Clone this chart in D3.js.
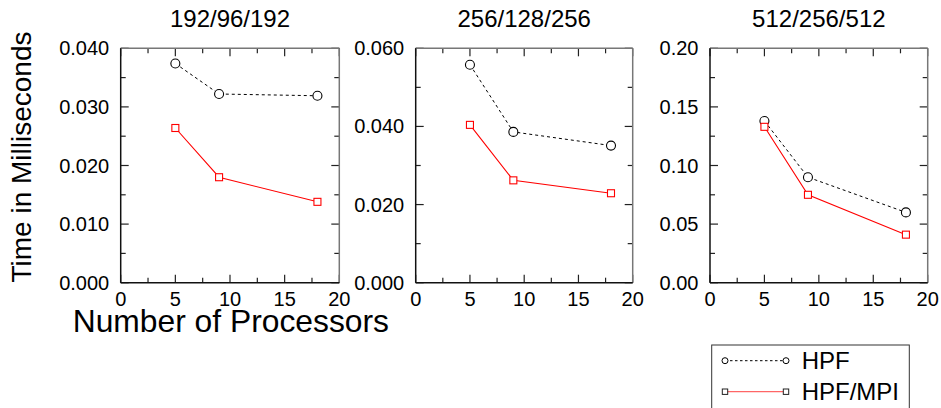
<!DOCTYPE html>
<html>
<head>
<meta charset="utf-8">
<script src="https://cdn.jsdelivr.net/npm/d3@7"></script>
<style>
  html, body { margin: 0; padding: 0; background: #fff; }
  svg { display: block; font-family: "Liberation Sans", Arial, Helvetica, sans-serif; }
</style>
</head>
<body>
<svg id="chart" width="941" height="408"></svg>
<script>
// ---- data ----
const processors = [5, 9, 18];
const panelTitles = ["192/96/192", "256/128/256", "512/256/512"];
const hpf1 = [0.0374, 0.0322, 0.0319];
const mpi1 = [0.0264, 0.0180, 0.0138];
const hpf2 = [0.0558, 0.0386, 0.0351];
const mpi2 = [0.0404, 0.0262, 0.0229];
const hpf3 = [0.138, 0.090, 0.060];
const mpi3 = [0.133, 0.075, 0.041];
const yMax = [0.040, 0.060, 0.20];
const yTickLabels = [
  ["0.000", "0.010", "0.020", "0.030", "0.040"],
  ["0.000", "0.020", "0.040", "0.060"],
  ["0.00", "0.05", "0.10", "0.15", "0.20"]
];
const xTickLabels = ["0", "5", "10", "15", "20"];
const seriesNames = ["HPF", "HPF/MPI"];

const hpfSeries = [hpf1, hpf2, hpf3];
const mpiSeries = [mpi1, mpi2, mpi3];

// ---- layout ----
const svg = d3.select("#chart");
const panels = [
  { x0: 120.7, x1: 339.3 },
  { x0: 415.7, x1: 632.7 },
  { x0: 710, x1: 927.7 }
];
const yTop = 48.3, yBot = 282.7;
const majorLen = 8, minorLen = 5;

panels.forEach((p, i) => {
  const g = svg.append("g");
  const x = d3.scaleLinear().domain([0, 20]).range([p.x0, p.x1]);
  const y = d3.scaleLinear().domain([0, yMax[i]]).range([yBot, yTop]);
  const nMaj = yTickLabels[i].length;
  const yMajor = yTickLabels[i].map(d => +d);
  const yStep = yMajor[1] - yMajor[0];
  const yMinor = d3.range(nMaj - 1).map(k => yMajor[k] + yStep / 2);
  const xMajor = xTickLabels.map(d => +d);
  const xMinor = [2.5, 7.5, 12.5, 17.5];

  // ticks (inward on all sides)
  const tk = g.append("g").attr("stroke", "#222").attr("stroke-width", 1.2);
  xMajor.forEach(v => {
    tk.append("line").attr("x1", x(v)).attr("x2", x(v)).attr("y1", yBot).attr("y2", yBot - majorLen);
    tk.append("line").attr("x1", x(v)).attr("x2", x(v)).attr("y1", yTop).attr("y2", yTop + majorLen);
  });
  xMinor.forEach(v => {
    tk.append("line").attr("x1", x(v)).attr("x2", x(v)).attr("y1", yBot).attr("y2", yBot - minorLen);
    tk.append("line").attr("x1", x(v)).attr("x2", x(v)).attr("y1", yTop).attr("y2", yTop + minorLen);
  });
  yMajor.forEach(v => {
    tk.append("line").attr("x1", p.x0).attr("x2", p.x0 + majorLen).attr("y1", y(v)).attr("y2", y(v));
    tk.append("line").attr("x1", p.x1).attr("x2", p.x1 - majorLen).attr("y1", y(v)).attr("y2", y(v));
  });
  yMinor.forEach(v => {
    tk.append("line").attr("x1", p.x0).attr("x2", p.x0 + minorLen).attr("y1", y(v)).attr("y2", y(v));
    tk.append("line").attr("x1", p.x1).attr("x2", p.x1 - minorLen).attr("y1", y(v)).attr("y2", y(v));
  });

  // frame
  g.append("line").attr("x1", p.x0).attr("x2", p.x1).attr("y1", yTop).attr("y2", yTop)
    .attr("stroke", "#777").attr("stroke-width", 1.5);
  g.append("line").attr("x1", p.x1).attr("x2", p.x1).attr("y1", yTop).attr("y2", yBot)
    .attr("stroke", "#777").attr("stroke-width", 1.5);
  g.append("line").attr("x1", p.x0).attr("x2", p.x1).attr("y1", yBot).attr("y2", yBot)
    .attr("stroke", "#111").attr("stroke-width", 1.5);
  g.append("line").attr("x1", p.x0).attr("x2", p.x0).attr("y1", yTop).attr("y2", yBot)
    .attr("stroke", "#111").attr("stroke-width", 1.5);

  // tick labels
  xTickLabels.forEach(t => {
    g.append("text").attr("x", x(+t)).attr("y", 305.5).attr("text-anchor", "middle")
      .attr("font-size", 20).attr("fill", "#000").text(t);
  });
  yTickLabels[i].forEach(t => {
    g.append("text").attr("x", p.x0 - 11.5).attr("y", y(+t) + 7).attr("text-anchor", "end")
      .attr("font-size", 20).attr("fill", "#000").text(t);
  });

  // title
  g.append("text").attr("x", (p.x0 + p.x1) / 2).attr("y", 27).attr("text-anchor", "middle")
    .attr("font-size", 24).attr("fill", "#000").text(panelTitles[i]);

  // lines
  const line = d3.line().x((d, k) => x(processors[k])).y(d => y(d));
  g.append("path").datum(hpfSeries[i]).attr("d", line).attr("fill", "none")
    .attr("stroke", "#000").attr("stroke-width", 1).attr("stroke-dasharray", "3,3");
  g.append("path").datum(mpiSeries[i]).attr("d", line).attr("fill", "none")
    .attr("stroke", "#ff0000").attr("stroke-width", 1.1);

  // markers
  g.selectAll(".c").data(hpfSeries[i]).enter().append("circle")
    .attr("cx", (d, k) => x(processors[k])).attr("cy", d => y(d)).attr("r", 4.5)
    .attr("fill", "#fff").attr("stroke", "#000").attr("stroke-width", 1.1);
  g.selectAll(".s").data(mpiSeries[i]).enter().append("rect")
    .attr("x", (d, k) => x(processors[k]) - 3.5).attr("y", d => y(d) - 3.5)
    .attr("width", 7).attr("height", 7)
    .attr("fill", "#fff").attr("stroke", "#ff0000").attr("stroke-width", 1.1);
});

// axis titles
svg.append("text").attr("x", 72.7).attr("y", 332).attr("font-size", 31.8).attr("fill", "#000")
  .text("Number of Processors");
svg.append("text").attr("transform", "translate(31,157) rotate(-90)").attr("text-anchor", "middle")
  .attr("font-size", 28).attr("fill", "#000").text("Time in Milliseconds");

// legend
const lg = svg.append("g");
lg.append("rect").attr("x", 711.7).attr("y", 345).attr("width", 197.6).attr("height", 90)
  .attr("fill", "#fff").attr("stroke", "#333").attr("stroke-width", 1);
const rows = [360.7, 391.7];
// HPF row
lg.append("line").attr("x1", 725).attr("x2", 786).attr("y1", rows[0]).attr("y2", rows[0])
  .attr("stroke", "#000").attr("stroke-width", 1).attr("stroke-dasharray", "2.5,2.5");
[725, 786].forEach(cx => lg.append("circle").attr("cx", cx).attr("cy", rows[0]).attr("r", 3)
  .attr("fill", "#fff").attr("stroke", "#000").attr("stroke-width", 1));
// MPI row
lg.append("line").attr("x1", 725).attr("x2", 786).attr("y1", rows[1]).attr("y2", rows[1])
  .attr("stroke", "#ff0000").attr("stroke-opacity", 0.6).attr("stroke-width", 1.3);
[725, 786].forEach(cx => lg.append("rect").attr("x", cx - 2.7).attr("y", rows[1] - 2.7)
  .attr("width", 5.4).attr("height", 5.4)
  .attr("fill", "#fff").attr("stroke", "#222").attr("stroke-width", 1));
seriesNames.forEach((s, k) => {
  lg.append("text").attr("x", 801.7).attr("y", rows[k] + 8.6).attr("font-size", 24)
    .attr("fill", "#000").text(s);
});
</script>
</body>
</html>
